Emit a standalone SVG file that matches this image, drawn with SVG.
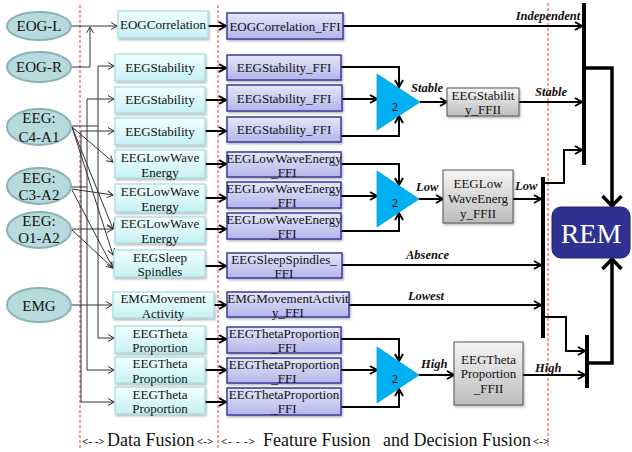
<svg xmlns="http://www.w3.org/2000/svg" width="632" height="452" viewBox="0 0 632 452">
<defs>
<linearGradient id="gc" x1="0" y1="0" x2="0" y2="1"><stop offset="0" stop-color="#f2ffff"/><stop offset="1" stop-color="#c6f1f5"/></linearGradient>
<linearGradient id="gp" x1="0" y1="0" x2="0" y2="1"><stop offset="0" stop-color="#e6e6fb"/><stop offset="1" stop-color="#b4b4ea"/></linearGradient>
<linearGradient id="gg" x1="0" y1="0" x2="0" y2="1"><stop offset="0" stop-color="#f5f5f5"/><stop offset="1" stop-color="#bcbcbc"/></linearGradient>
<filter id="sh" x="-10%" y="-10%" width="130%" height="140%"><feDropShadow dx="1" dy="1.5" stdDeviation="0.8" flood-color="#000" flood-opacity="0.3"/></filter>
<marker id="ag" viewBox="0 0 8 8" refX="7" refY="4" markerWidth="8" markerHeight="8" markerUnits="userSpaceOnUse" orient="auto"><path d="M1,0.5 L7,4 L1,7.5" fill="none" stroke="#333" stroke-width="1"/></marker>
<marker id="ab" viewBox="0 0 10 10" refX="8.5" refY="5" markerWidth="10" markerHeight="10" markerUnits="userSpaceOnUse" orient="auto"><path d="M1.5,1 L8.5,5 L1.5,9" fill="none" stroke="#000" stroke-width="2"/></marker>
<marker id="abig" viewBox="0 0 14 22" refX="12" refY="11" markerWidth="14" markerHeight="22" markerUnits="userSpaceOnUse" orient="auto"><path d="M2,1.5 L12,11 L2,20.5" fill="none" stroke="#000" stroke-width="3.5"/></marker>
<style>
.el{fill:#b6dadd;stroke:#8bb2b5;stroke-width:2}
.cy{fill:url(#gc);stroke:#a3dbe1;stroke-width:1.2}
.pu{fill:url(#gp);stroke:#3a3a9a;stroke-width:1.5}
.gr{fill:url(#gg);stroke:#555;stroke-width:1}
.tri{fill:#00b0f0;stroke:#0aa0d8;stroke-width:0.8}
text{font-family:"Liberation Serif","Times New Roman",serif;fill:#111}
.t13{font-size:13px;text-anchor:middle}
.t15{font-size:15px;text-anchor:middle}
.lab{font-size:12.5px;font-weight:bold;font-style:italic}
.thin{fill:none;stroke:#333;stroke-width:1;marker-end:url(#ag)}
.thinn{fill:none;stroke:#333;stroke-width:1}
.blk{fill:none;stroke:#000;stroke-width:2;marker-end:url(#ab)}
.bar{fill:none;stroke:#000;stroke-width:4}
.thick{fill:none;stroke:#000;stroke-width:3.5;marker-end:url(#abig)}
.red{stroke:#ff3030;stroke-width:1;stroke-dasharray:3,2}
.sm{font-size:11px;font-weight:bold}
.big{font-size:18px}
</style>
</defs>
<rect width="632" height="452" fill="#fff"/>

<g id="guides">
<line class="red" x1="80" y1="5" x2="80" y2="448"/>
<line class="red" x1="218" y1="5" x2="218" y2="448"/>
<line class="red" x1="548" y1="3" x2="548" y2="448"/>
</g>

<g id="connectors">
<path class="thin" d="M71,26 H117"/>
<path class="thin" d="M71,67 H90 V27"/>
<path class="thinn" d="M71,126 H98"/>
<path class="thin" d="M98,126 V66 H114"/>
<path class="thin" d="M98,126 V338 H114"/>
<path class="thinn" d="M71,187 H87"/>
<path class="thin" d="M87,187 V99 H114"/>
<path class="thin" d="M87,187 V370 H114"/>
<path class="thin" d="M71,229 H113"/>
<path class="thin" d="M81,229 V131 H114"/>
<path class="thin" d="M81,229 V402 H114"/>
<path class="thin" d="M72,127 L113,162"/>
<path class="thin" d="M72,127 L113,229"/>
<path class="thin" d="M72,127 L113,255"/>
<path class="thin" d="M72,189 L113,195"/>
<path class="thin" d="M72,190 L113,268"/>
<path class="thin" d="M72,230 L113,268"/>
<path class="thin" d="M71,305 H112"/>
<path class="blk" d="M208,26 H226"/>
<path class="blk" d="M205,68 H226"/>
<path class="blk" d="M205,100 H226"/>
<path class="blk" d="M205,131 H226"/>
<path class="blk" d="M205,164 H226"/>
<path class="blk" d="M205,198 H226"/>
<path class="blk" d="M205,229 H226"/>
<path class="blk" d="M205,266 H226"/>
<path class="blk" d="M214,305 H226"/>
<path class="blk" d="M205,339 H226"/>
<path class="blk" d="M205,370 H226"/>
<path class="blk" d="M205,402 H226"/>
<path class="blk" d="M341,67 H399 V87"/>
<path class="blk" d="M342,99 H377"/>
<path class="blk" d="M341,136 H399 V116"/>
<path class="blk" d="M341,164 H399 V185"/>
<path class="blk" d="M341,196 H377"/>
<path class="blk" d="M341,231 H399 V213"/>
<path class="blk" d="M341,339 H399 V361"/>
<path class="blk" d="M341,370 H377"/>
<path class="blk" d="M341,407 H399 V389"/>
<path class="blk" d="M420,102 H447"/>
<path class="blk" d="M419,199 H443"/>
<path class="blk" d="M419,375 H454"/>
<path class="blk" d="M343,26 H582"/>
<path class="blk" d="M519,102 H582"/>
<path class="blk" d="M513,199 H541"/>
<path class="blk" d="M342,265 H541"/>
<path class="blk" d="M349,305 H541"/>
<path class="blk" d="M523,375 H585"/>
<path class="blk" d="M545,183 H564 V150 H582"/>
<path class="blk" d="M545,317 H566 V351 H585"/>
<line class="bar" x1="584" y1="3" x2="584" y2="165"/>
<line class="bar" x1="543" y1="177" x2="543" y2="338"/>
<line class="bar" x1="587" y1="335" x2="587" y2="388"/>
<path class="thick" d="M586,68 H612 V206"/>
<path class="thick" d="M589,363 H612 V259"/>
<text class="lab" x="548" y="20" text-anchor="middle">Independent</text>
<text class="lab" x="411" y="92">Stable</text>
<text class="lab" x="535" y="96">Stable</text>
<text class="lab" x="416" y="191">Low</text>
<text class="lab" x="515" y="190">Low</text>
<text class="lab" x="449" y="259" text-anchor="end">Absence</text>
<text class="lab" x="444" y="300" text-anchor="end">Lowest</text>
<text class="lab" x="421" y="368">High</text>
<text class="lab" x="535" y="372">High</text>
</g>

<g id="EOG-L"><ellipse class="el" cx="39" cy="26" rx="32" ry="14"/><text class="t15" x="39" y="31">EOG-L</text></g>
<g id="EOG-R"><ellipse class="el" cx="39" cy="67" rx="32" ry="15"/><text class="t15" x="39" y="72">EOG-R</text></g>
<g id="EEG-C4-A1"><ellipse class="el" cx="39" cy="127" rx="32" ry="18"/><text class="t15" x="39" y="123">EEG:</text><text class="t15" x="39" y="142">C4-A1</text></g>
<g id="EEG-C3-A2"><ellipse class="el" cx="39" cy="186" rx="32" ry="18"/><text class="t15" x="39" y="183">EEG:</text><text class="t15" x="39" y="200">C3-A2</text></g>
<g id="EEG-O1-A2"><ellipse class="el" cx="39" cy="230" rx="32" ry="18"/><text class="t15" x="39" y="226">EEG:</text><text class="t15" x="39" y="243">O1-A2</text></g>
<g id="EMG"><ellipse class="el" cx="39" cy="305" rx="32" ry="17"/><text class="t15" x="39" y="311">EMG</text></g>

<g id="d-eogcorr"><rect class="cy" filter="url(#sh)" x="118" y="11" width="90" height="27"/><text class="t13" x="163" y="29">EOGCorrelation</text></g>
<g id="d-stab1"><rect class="cy" filter="url(#sh)" x="115" y="54" width="90" height="27"/><text class="t13" x="160" y="72">EEGStability</text></g>
<g id="d-stab2"><rect class="cy" filter="url(#sh)" x="115" y="87" width="90" height="26"/><text class="t13" x="160" y="104">EEGStability</text></g>
<g id="d-stab3"><rect class="cy" filter="url(#sh)" x="115" y="118" width="90" height="27"/><text class="t13" x="160" y="136">EEGStability</text></g>
<g id="d-low1"><rect class="cy" filter="url(#sh)" x="115" y="150" width="90" height="28"/><text class="t13" x="160" y="161.5">EEGLowWave</text><text class="t13" x="160" y="176.5">Energy</text></g>
<g id="d-low2"><rect class="cy" filter="url(#sh)" x="115" y="184" width="90" height="28"/><text class="t13" x="160" y="195.5">EEGLowWave</text><text class="t13" x="160" y="210.5">Energy</text></g>
<g id="d-low3"><rect class="cy" filter="url(#sh)" x="115" y="217" width="90" height="26"/><text class="t13" x="160" y="227.5">EEGLowWave</text><text class="t13" x="160" y="242.5">Energy</text></g>
<g id="d-spindle"><rect class="cy" filter="url(#sh)" x="114" y="250" width="91" height="27"/><text class="t13" x="160" y="261.5">EEGSleep</text><text class="t13" x="160" y="276">Spindles</text></g>
<g id="d-emg"><rect class="cy" filter="url(#sh)" x="113" y="292" width="101" height="26"/><text class="t13" x="163" y="303">EMGMovement</text><text class="t13" x="163" y="317.5">Activity</text></g>
<g id="d-theta1"><rect class="cy" filter="url(#sh)" x="115" y="326" width="90" height="27"/><text class="t13" x="160" y="337.5">EEGTheta</text><text class="t13" x="160" y="352">Proportion</text></g>
<g id="d-theta2"><rect class="cy" filter="url(#sh)" x="115" y="357" width="90" height="26"/><text class="t13" x="160" y="368">EEGTheta</text><text class="t13" x="160" y="382.5">Proportion</text></g>
<g id="d-theta3"><rect class="cy" filter="url(#sh)" x="115" y="387" width="90" height="27"/><text class="t13" x="160" y="398.5">EEGTheta</text><text class="t13" x="160" y="413">Proportion</text></g>

<g id="f-eogcorr"><rect class="pu" filter="url(#sh)" x="227" y="13" width="116" height="26"/><text class="t13" x="285" y="30.5">EOGCorrelation_FFI</text></g>
<g id="f-stab1"><rect class="pu" filter="url(#sh)" x="227" y="55" width="114" height="25"/><text class="t13" x="284" y="72">EEGStability_FFI</text></g>
<g id="f-stab2"><rect class="pu" filter="url(#sh)" x="227" y="85" width="115" height="26"/><text class="t13" x="284" y="103">EEGStability_FFI</text></g>
<g id="f-stab3"><rect class="pu" filter="url(#sh)" x="227" y="117" width="114" height="25"/><text class="t13" x="284" y="134">EEGStability_FFI</text></g>
<g id="f-low1"><rect class="pu" filter="url(#sh)" x="227" y="152" width="114" height="25"/><text class="t13" x="284" y="162.5">EEGLowWaveEnergy</text><text class="t13" x="284" y="176.5">_FFI</text></g>
<g id="f-low2"><rect class="pu" filter="url(#sh)" x="227" y="182" width="114" height="26"/><text class="t13" x="284" y="192.5">EEGLowWaveEnergy</text><text class="t13" x="284" y="206.5">_FFI</text></g>
<g id="f-low3"><rect class="pu" filter="url(#sh)" x="227" y="213" width="114" height="26"/><text class="t13" x="284" y="223.5">EEGLowWaveEnergy</text><text class="t13" x="284" y="237.5">_FFI</text></g>
<g id="f-spindle"><rect class="pu" filter="url(#sh)" x="227" y="253" width="115" height="25"/><text class="t13" x="284" y="263.5">EEGSleepSpindles_</text><text class="t13" x="284" y="277.5">FFI</text></g>
<g id="f-emg"><rect class="pu" filter="url(#sh)" x="227" y="292" width="122" height="25"/><text class="t13" x="288" y="303">EMGMovementActivit</text><text class="t13" x="288" y="317">y_FFI</text></g>
<g id="f-theta1"><rect class="pu" filter="url(#sh)" x="227" y="327" width="114" height="26"/><text class="t13" x="284" y="337.5">EEGThetaProportion</text><text class="t13" x="284" y="351.5">_FFI</text></g>
<g id="f-theta2"><rect class="pu" filter="url(#sh)" x="227" y="358" width="114" height="25"/><text class="t13" x="284" y="368.5">EEGThetaProportion</text><text class="t13" x="284" y="382.5">_FFI</text></g>
<g id="f-theta3"><rect class="pu" filter="url(#sh)" x="227" y="388" width="114" height="27"/><text class="t13" x="284" y="398.5">EEGThetaProportion</text><text class="t13" x="284" y="412.5">_FFI</text></g>

<g id="vote-stable"><polygon class="tri" points="377,74 420,102 377,130"/><text class="t13" x="395" y="110.5">2</text></g>
<g id="vote-low"><polygon class="tri" points="377,171 419,199 377,227"/><text class="t13" x="395" y="206.5">2</text></g>
<g id="vote-high"><polygon class="tri" points="377,347 419,375 377,403"/><text class="t13" x="395" y="382.5">2</text></g>

<g id="ffii-stab"><rect class="gr" filter="url(#sh)" x="447" y="88" width="72" height="28"/><text class="t13" x="483" y="99.5" fill="#333">EEGStabilit</text><text class="t13" x="483" y="113.5" fill="#333">y_FFII</text></g>
<g id="ffii-low"><rect class="gr" filter="url(#sh)" x="443" y="170" width="70" height="53"/><text class="t13" x="478" y="187.5" fill="#333">EEGLow</text><text class="t13" x="478" y="202.5" fill="#333">WaveEnerg</text><text class="t13" x="478" y="217.5" fill="#333">y_FFII</text></g>
<g id="ffii-theta"><rect class="gr" filter="url(#sh)" x="454" y="342" width="69" height="63"/><text class="t13" x="488.5" y="363.5" fill="#333">EEGTheta</text><text class="t13" x="488.5" y="377.5" fill="#333">Proportion</text><text class="t13" x="488.5" y="392.5" fill="#333">_FFII</text></g>

<g id="REM"><rect x="552" y="207" width="78" height="51" rx="9" fill="#2e3192" stroke="#22246e" stroke-width="1"/><text x="591" y="243" font-size="28" text-anchor="middle" style="fill:#fff">REM</text></g>

<g id="footer">
<text class="sm" x="82" y="445">&lt;- -&gt;</text>
<text class="big" x="107" y="446">Data Fusion</text>
<text class="sm" x="197" y="445">&lt;-&gt;</text>
<text class="sm" x="221" y="445" letter-spacing="0.8">&lt;- - -&gt;</text>
<text class="big" x="263" y="446">Feature Fusion</text>
<text class="big" x="383" y="446">and Decision Fusion</text>
<text class="sm" x="533" y="445">&lt;-&gt;</text>
</g>
</svg>
